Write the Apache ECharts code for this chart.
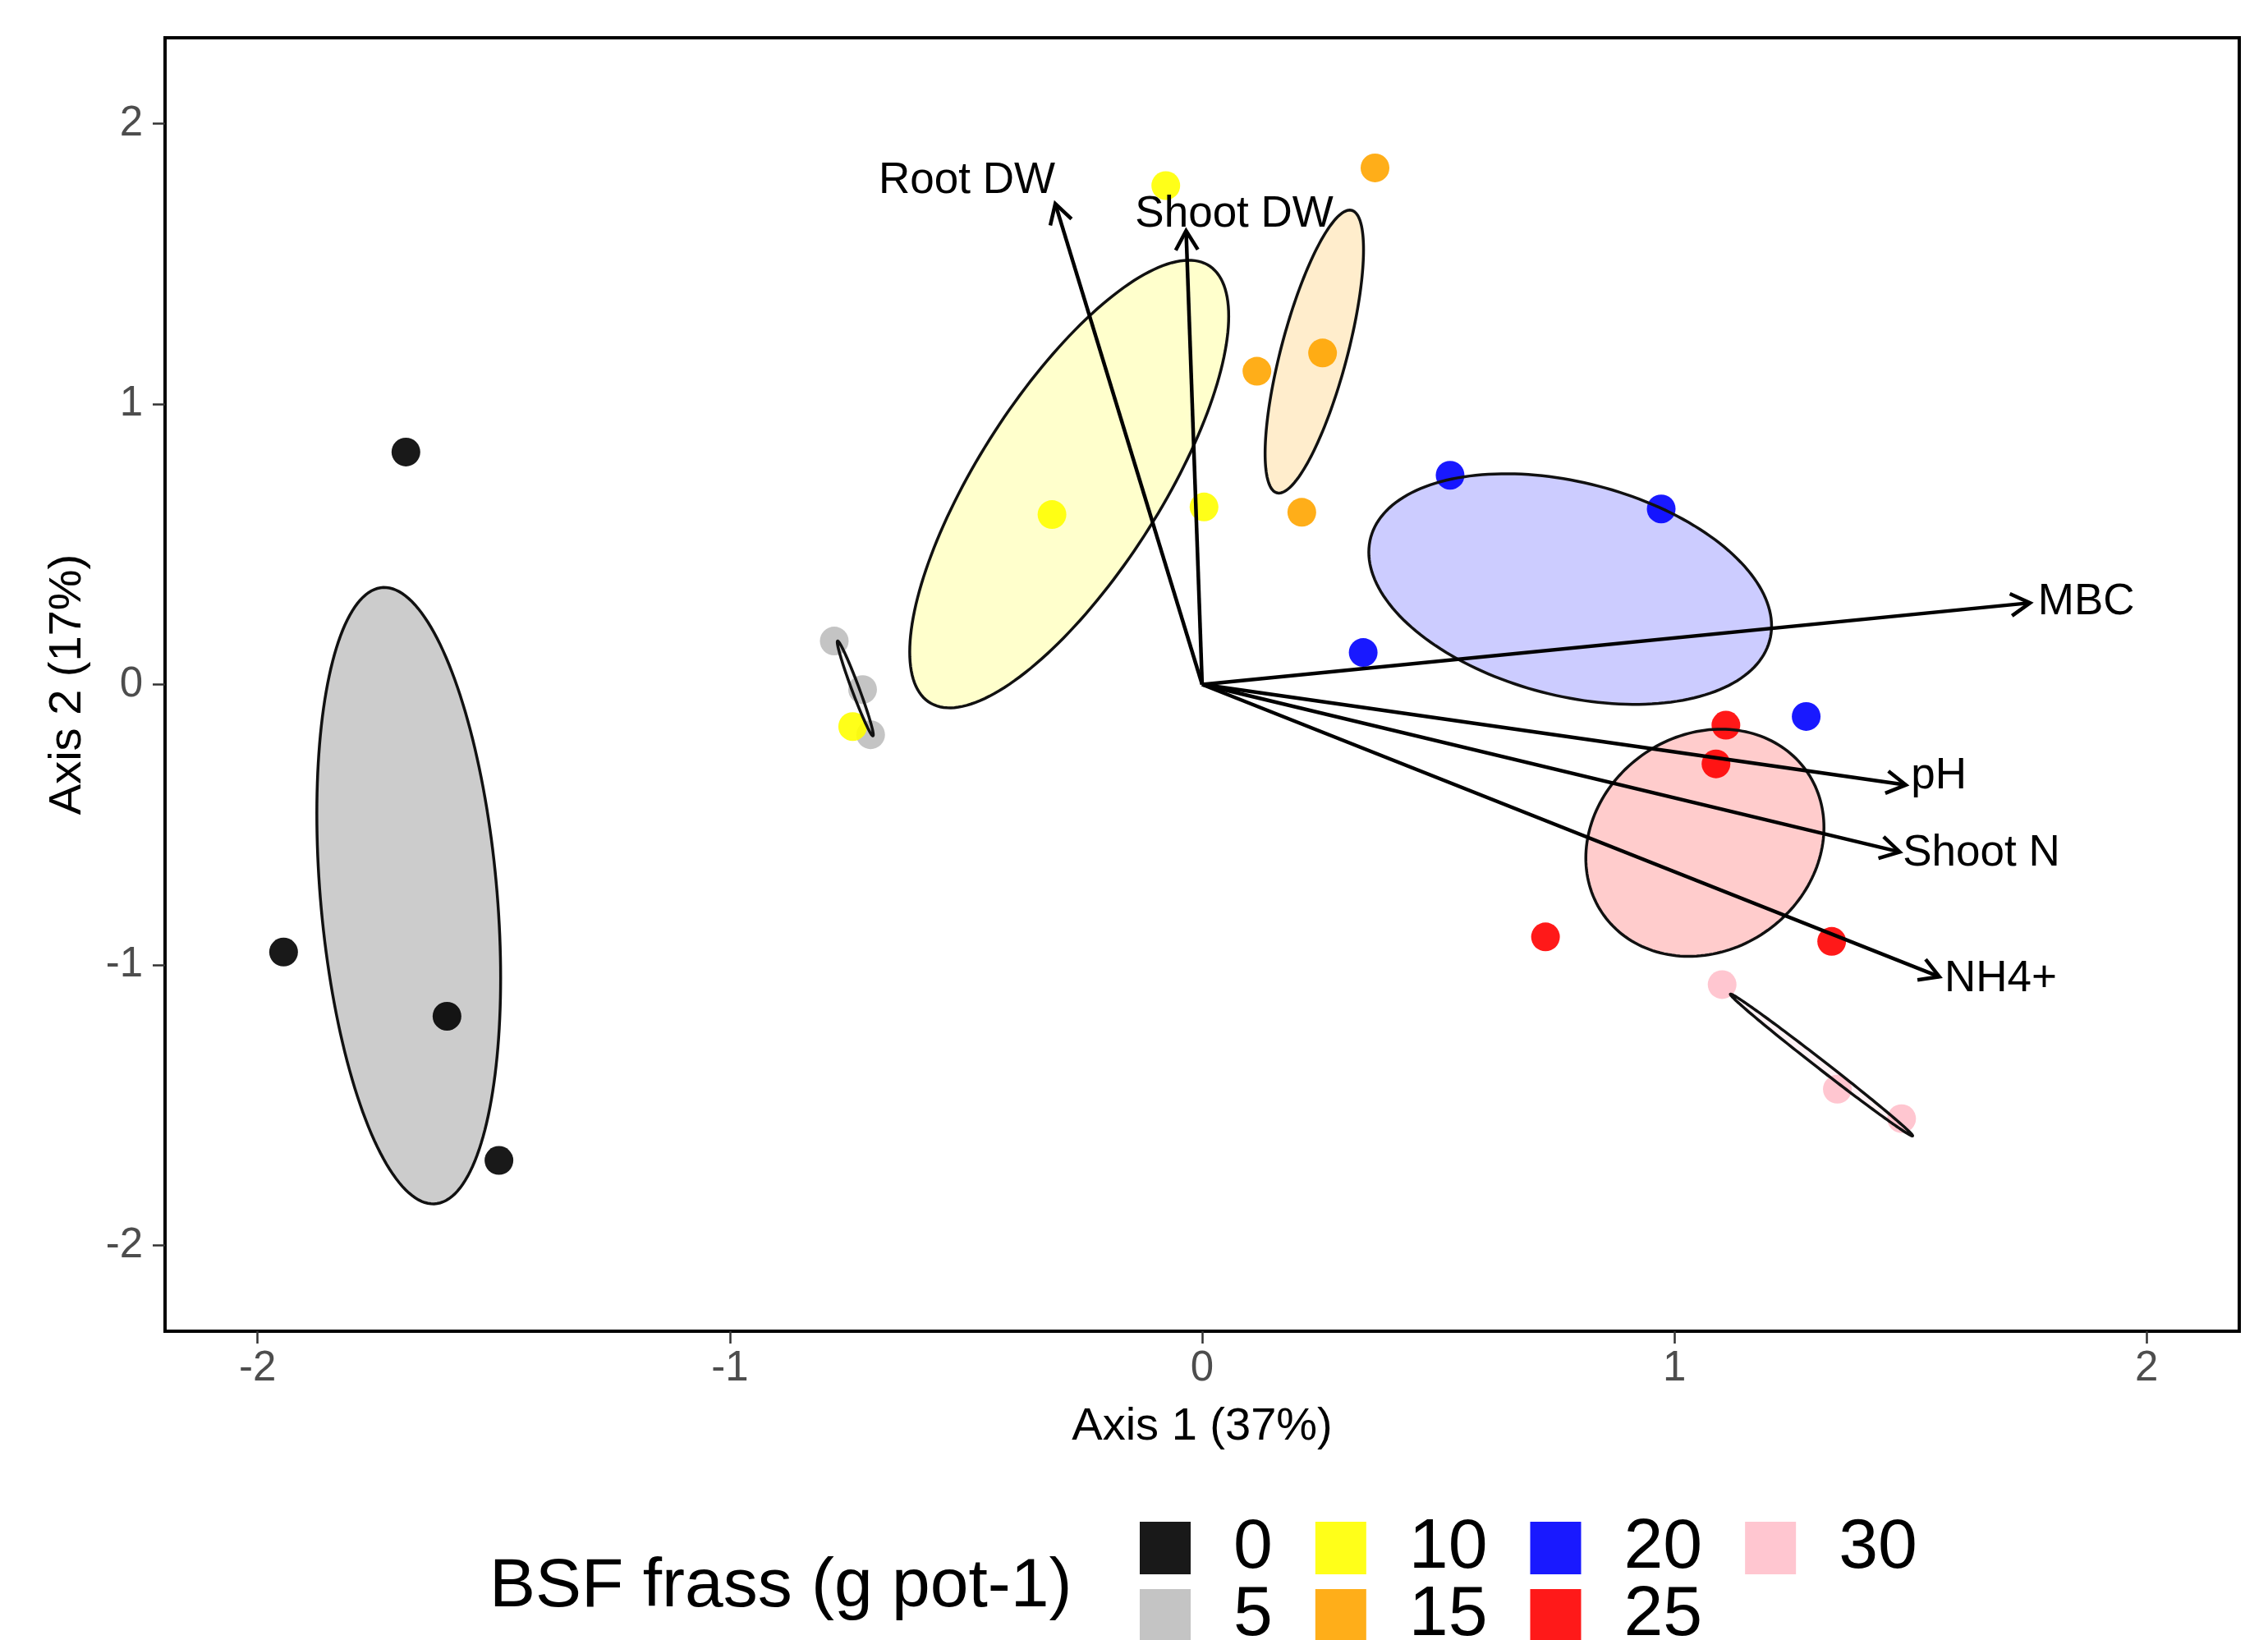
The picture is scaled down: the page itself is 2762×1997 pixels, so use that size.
<!DOCTYPE html>
<html>
<head>
<meta charset="utf-8">
<script src="https://cdn.jsdelivr.net/npm/echarts@6/dist/echarts.min.js"></script>
<style>
html, body { margin: 0; padding: 0; background: #fff; }
#main { width: 2762px; height: 1997px; }
</style>
</head>
<body>
<div id="main"></div>
<script>
// BSF frass groups (g pot-1) and their colours
const groups = ['0', '5', '10', '15', '20', '25', '30'];
const groupColors = ['#000000', '#bebebe', '#ffff00', '#ffa500', '#0000ff', '#ff0000', '#ffc0cb'];
const legendRow1 = ['0', '10', '20', '30'];
const legendRow2 = ['5', '15', '25'];

// sample scores, [Axis 1, Axis 2]
const pts0 = [[-1.686, 0.829], [-1.945, -0.954], [-1.599, -1.183], [-1.489, -1.697]];
const pts5 = [[-0.779, 0.155], [-0.719, -0.018], [-0.702, -0.179]];
const pts10 = [[-0.077, 1.779], [-0.318, 0.606], [0.004, 0.633], [-0.740, -0.150]];
const pts15 = [[0.366, 1.842], [0.255, 1.182], [0.116, 1.117], [0.211, 0.614]];
const pts20 = [[0.525, 0.746], [0.972, 0.626], [0.341, 0.114], [1.279, -0.114]];
const pts25 = [[1.109, -0.145], [1.088, -0.283], [0.727, -0.900], [1.333, -0.916]];
const pts30 = [[1.101, -1.070], [1.345, -1.443], [1.481, -1.548]];

// group ellipses: centre, half width, half height, correlation
const ellCx = [-1.680, -0.7345, -0.2815, 0.2375, 0.7793, 1.0645, 1.3114];
const ellCy = [-0.753, -0.014, 0.7148, 1.187, 0.3403, -0.5643, -1.3567];
const ellRx = [0.1946, 0.0381, 0.3377, 0.1042, 0.4264, 0.2521, 0.193];
const ellRy = [1.099, 0.169, 0.798, 0.5045, 0.4111, 0.405, 0.253];
const ellR = [-0.266, -0.976, 0.75, 0.72, -0.32, 0.135, -0.997];

// fitted variable vectors and where their labels sit
const vecNames = ['Root DW', 'Shoot DW', 'MBC', 'pH', 'Shoot N', 'NH4+'];
const vecX = [-0.311, -0.034, 1.753, 1.490, 1.477, 1.561];
const vecY = [1.714, 1.618, 0.291, -0.358, -0.597, -1.042];
const labX = [-0.498, 0.068, 1.872, 1.560, 1.650, 1.691];
const labY = [1.795, 1.676, 0.293, -0.328, -0.603, -1.052];

const xTicks = [-2, -1, 0, 1, 2];
const yTicks = [-2, -1, 0, 1, 2];

const FONT = '"Liberation Sans", Arial, sans-serif';

function rgba(hex, a) {
  const n = parseInt(hex.slice(1), 16);
  return 'rgba(' + (n >> 16) + ',' + ((n >> 8) & 255) + ',' + (n & 255) + ',' + a + ')';
}

const chart = echarts.init(document.getElementById('main'));

const pointSets = [pts0, pts5, pts10, pts15, pts20, pts25, pts30];

const scatterSeries = groups.map((g, i) => ({
  name: g,
  type: 'scatter',
  data: pointSets[i],
  symbolSize: 35,
  z: 2,
  silent: true,
  itemStyle: { color: groupColors[i], opacity: 0.9 }
}));

function renderEllipse(params, api) {
  const cx = api.value(0), cy = api.value(1);
  const rx = api.value(2), ry = api.value(3), r = api.value(4);
  const gi = api.value(5);
  const k = Math.sqrt(1 - r * r);
  const pts = [];
  for (let j = 0; j < 180; j++) {
    const t = j / 180 * Math.PI * 2;
    pts.push(api.coord([cx + rx * Math.cos(t), cy + ry * (r * Math.cos(t) + k * Math.sin(t))]));
  }
  return {
    type: 'polygon',
    shape: { points: pts },
    style: { fill: rgba(groupColors[gi], 0.2), stroke: '#111', lineWidth: 3.5 }
  };
}

function renderArrow(params, api) {
  const o = api.coord([0, 0]);
  const tip = api.coord([api.value(0), api.value(1)]);
  const lab = api.coord([api.value(2), api.value(3)]);
  const ang = Math.atan2(tip[1] - o[1], tip[0] - o[0]);
  const L = 27, A = Math.PI / 6;
  const h1 = [tip[0] - L * Math.cos(ang - A), tip[1] - L * Math.sin(ang - A)];
  const h2 = [tip[0] - L * Math.cos(ang + A), tip[1] - L * Math.sin(ang + A)];
  return {
    type: 'group',
    children: [
      { type: 'line', shape: { x1: o[0], y1: o[1], x2: tip[0], y2: tip[1] },
        style: { stroke: '#000', lineWidth: 4.5 } },
      { type: 'polyline', shape: { points: [h1, tip, h2] },
        style: { stroke: '#000', lineWidth: 4.5, fill: null } },
      { type: 'text', x: lab[0], y: lab[1],
        style: { text: vecNames[params.dataIndex], fill: '#000', fontSize: 53, fontFamily: FONT,
                 align: 'center', verticalAlign: 'middle' } }
    ]
  };
}

// both legend rows share everything but their items and top
function legendRow(items, top) {
  return {
    data: items,
    left: 1388,
    top: top,
    padding: 0,
    icon: 'rect',
    itemWidth: 62,
    itemHeight: 64,
    itemGap: 52,
    selectedMode: false,
    textStyle: { fontSize: 86, color: '#000', fontFamily: FONT, padding: [0, 0, 0, 47] }
  };
}

const option = {
  backgroundColor: '#fff',
  animation: false,
  title: {
    text: 'BSF frass (g pot-1)',
    left: 596,
    top: 1891,
    padding: 0,
    textStyle: { fontSize: 84, fontWeight: 'normal', color: '#000', fontFamily: FONT }
  },
  legend: [legendRow(legendRow1, 1842), legendRow(legendRow2, 1924)],
  grid: {
    left: 201, right: 35, top: 46, bottom: 376,
    show: true, borderColor: '#000', borderWidth: 4,
    outerBoundsMode: 'none'
  },
  xAxis: {
    type: 'value',
    min: -2.196, max: 2.196,
    name: 'Axis 1 (37%)',
    nameLocation: 'middle',
    nameGap: 89,
    nameTextStyle: { fontSize: 56, color: '#000', fontFamily: FONT },
    axisLine: { show: false, onZero: false },
    splitLine: { show: false },
    axisTick: { show: true, length: 15, customValues: xTicks, lineStyle: { color: '#333', width: 2.5 } },
    axisLabel: { customValues: xTicks, margin: 20, fontSize: 51, color: '#4d4d4d', fontFamily: FONT }
  },
  yAxis: {
    type: 'value',
    min: -2.306, max: 2.306,
    name: 'Axis 2 (17%)',
    nameLocation: 'middle',
    nameRotate: 90,
    nameGap: 90,
    nameTextStyle: { fontSize: 56, color: '#000', fontFamily: FONT },
    axisLine: { show: false, onZero: false },
    splitLine: { show: false },
    axisTick: { show: true, length: 15, customValues: yTicks, lineStyle: { color: '#333', width: 2.5 } },
    axisLabel: { customValues: yTicks, margin: 27, fontSize: 51, color: '#4d4d4d', fontFamily: FONT }
  },
  series: scatterSeries.concat([
    {
      name: 'ellipses',
      type: 'custom',
      z: 3,
      silent: true,
      renderItem: renderEllipse,
      encode: { x: 0, y: 1 },
      data: groups.map((g, i) => [ellCx[i], ellCy[i], ellRx[i], ellRy[i], ellR[i], i])
    },
    {
      name: 'vectors',
      type: 'custom',
      z: 4,
      silent: true,
      renderItem: renderArrow,
      encode: { x: 0, y: 1 },
      data: vecX.map((x, i) => [x, vecY[i], labX[i], labY[i]])
    }
  ])
};

chart.setOption(option);
</script>
</body>
</html>
